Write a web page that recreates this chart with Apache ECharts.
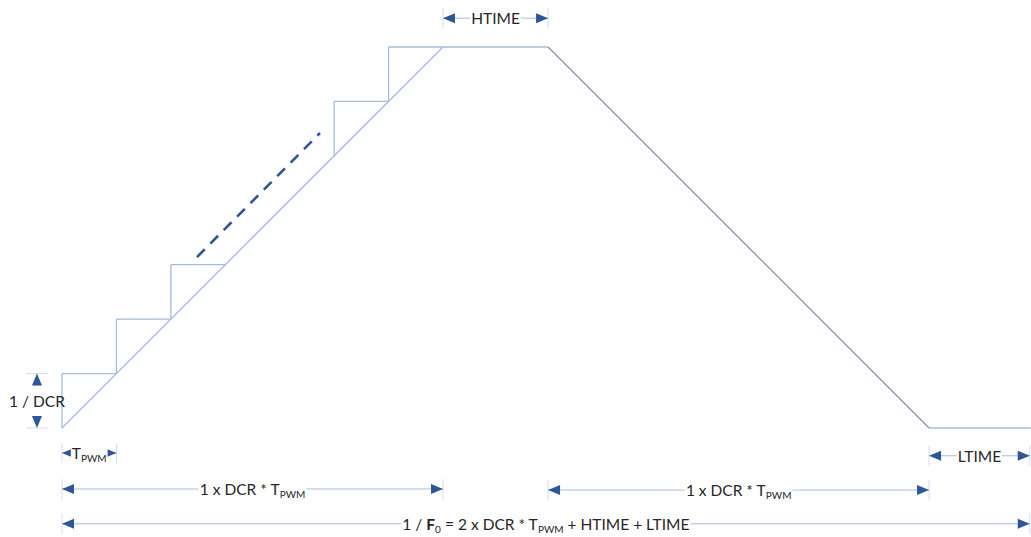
<!DOCTYPE html>
<html>
<head>
<meta charset="utf-8">
<script src="https://cdn.jsdelivr.net/npm/echarts@6/dist/echarts.min.js"></script>
<style>
html,body{margin:0;padding:0;background:#fff;}
#c{width:1031px;height:537px;}
</style>
</head>
<body>
<div id="c"></div>
<script>
// ---- data (units: one T_PWM step horizontally, one 1/DCR step vertically) ----
const dcrSteps = 7;                       // number of PWM steps in a ramp (DCR)
const shownSteps = [0, 1, 2, 5, 6];       // staircase steps drawn (others replaced by dashes)
const profileX = [0, 7, 8.93, 15.93, 17.8];
const profileY = [0, 7, 7, 0, 0];
const profileKind = ['rise', 'top', 'fall', 'low'];
const dashX = [2.48, 4.74];
const dashY = [3.14, 5.42];
const dimLabels = [
  'HTIME',
  '{m|T}{s|PWM}',
  'LTIME',
  '1 x DCR * T{s|PWM}',
  '1 x DCR * T{s|PWM}',
  '1 / {b|F}{s|0} = 2 x DCR * T{s|PWM} + HTIME + LTIME'
];
const dimStart = [7, 0, 15.93, 0, 8.93, 0];
const dimEnd = [8.93, 1, 17.78, 7, 15.93, 17.78];
const dimLevel = [7.53, -0.46, -0.51, -1.12, -1.14, -1.76];
const vDimLabel = '1 / DCR';
const vDimX = -0.46;
const vDimY = [0, 1];

// ---- build ----
const segs = [];
for (let i = 0; i < profileX.length - 1; i++) {
  segs.push([profileX[i], profileY[i], profileX[i + 1], profileY[i + 1], profileKind[i] === 'fall' ? 1 : 0]);
}
shownSteps.forEach(s => {
  segs.push([s, s, s, s + 1, 0]);
  segs.push([s, s + 1, s + 1, s + 1, 0]);
});

const LIGHT = '#a6bbdf';
const FALL = '#8593aa';
const DIMLINE = '#a9bde0';
const TICK = '#d3ddee';
const ARROW = '#2d5597';
const TXT = '#262626';
const FONT = 'Lato, "Open Sans", sans-serif';
const FS = 15.5;
const rich = {
  m: { fontSize: FS, fontFamily: FONT, color: TXT, lineHeight: 20 },
  b: { fontSize: FS, fontFamily: FONT, color: TXT, fontWeight: 'bold', lineHeight: 20 },
  s: { fontSize: 10, fontFamily: FONT, color: TXT, lineHeight: 20, verticalAlign: 'bottom' }
};

function arrow(tip, dir, color) {
  const L = 12, H = 5;
  const bx = tip[0] - dir[0] * L, by = tip[1] - dir[1] * L;
  const px = -dir[1] * H, py = dir[0] * H;
  return { type: 'polygon', shape: { points: [tip, [bx + px, by + py], [bx - px, by - py]] }, style: { fill: color } };
}

const chart = echarts.init(document.getElementById('c'), null, { renderer: 'svg' });
chart.setOption({
  animation: false,
  backgroundColor: '#ffffff',
  grid: { left: 0, right: 0, top: 0, bottom: 0 },
  xAxis: { type: 'value', min: -1.1391, max: 17.8027, show: false },
  yAxis: { type: 'value', min: -2.0026, max: 7.8633, show: false },
  series: [
    {
      type: 'custom',
      name: 'profile',
      data: segs,
      renderItem: function (params, api) {
        const a = api.coord([api.value(0), api.value(1)]);
        const b = api.coord([api.value(2), api.value(3)]);
        return {
          type: 'line',
          shape: { x1: a[0], y1: a[1], x2: b[0], y2: b[1] },
          style: { stroke: api.value(4) === 1 ? FALL : LIGHT, lineWidth: 1.3 }
        };
      }
    },
    {
      type: 'line',
      name: 'dashes',
      data: dashX.map((x, i) => [x, dashY[i]]),
      symbol: 'none',
      lineStyle: { color: ARROW, width: 2.6, type: [11, 8] }
    },
    {
      type: 'custom',
      name: 'dims',
      data: dimLabels.map((l, i) => [dimStart[i], dimEnd[i], dimLevel[i], i]),
      renderItem: function (params, api) {
        const i = api.value(3);
        const a = api.coord([api.value(0), api.value(2)]);
        const b = api.coord([api.value(1), api.value(2)]);
        const cx = (a[0] + b[0]) / 2;
        return {
          type: 'group',
          children: [
            { type: 'line', shape: { x1: a[0], y1: a[1] - 10, x2: a[0], y2: a[1] + 10 }, style: { stroke: TICK, lineWidth: 1 } },
            { type: 'line', shape: { x1: b[0], y1: b[1] - 10, x2: b[0], y2: b[1] + 10 }, style: { stroke: TICK, lineWidth: 1 } },
            { type: 'line', shape: { x1: a[0], y1: a[1], x2: b[0], y2: b[1] }, style: { stroke: DIMLINE, lineWidth: 1 } },
            arrow(a, [-1, 0], ARROW),
            arrow(b, [1, 0], ARROW),
            {
              type: 'text',
              x: cx, y: a[1],
              style: {
                text: dimLabels[i], rich: rich,
                fontSize: FS, fontFamily: FONT, fill: TXT,
                align: 'center', verticalAlign: 'middle',
                backgroundColor: '#ffffff', padding: [0, 1, 0, 1]
              }
            }
          ]
        };
      }
    },
    {
      type: 'custom',
      name: 'vdim',
      data: [[vDimX, vDimY[0], vDimY[1]]],
      renderItem: function (params, api) {
        const a = api.coord([api.value(0), api.value(1)]);
        const b = api.coord([api.value(0), api.value(2)]);
        return {
          type: 'group',
          children: [
            { type: 'line', shape: { x1: a[0] - 11, y1: a[1], x2: a[0] + 11, y2: a[1] }, style: { stroke: TICK, lineWidth: 1 } },
            { type: 'line', shape: { x1: b[0] - 11, y1: b[1], x2: b[0] + 11, y2: b[1] }, style: { stroke: TICK, lineWidth: 1 } },
            arrow(a, [0, 1], ARROW),
            arrow(b, [0, -1], ARROW),
            {
              type: 'text',
              x: a[0], y: (a[1] + b[1]) / 2,
              style: { text: vDimLabel, fontSize: FS, fontFamily: FONT, fill: TXT, align: 'center', verticalAlign: 'middle' }
            }
          ]
        };
      }
    }
  ]
});
</script>
</body>
</html>
